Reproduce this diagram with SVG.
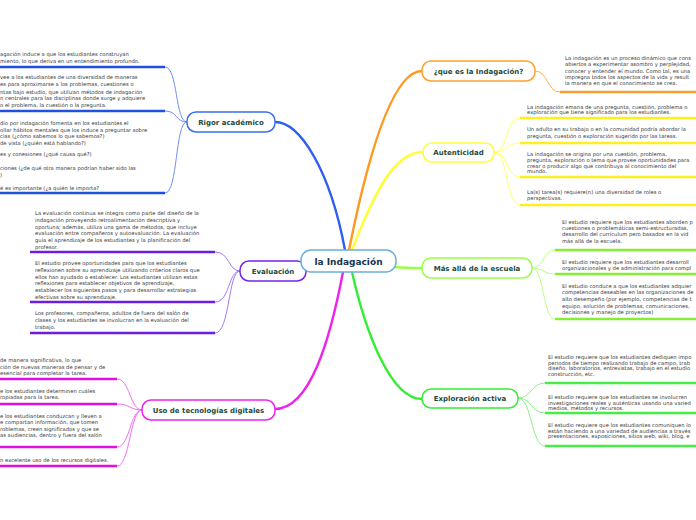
<svg xmlns="http://www.w3.org/2000/svg" width="696" height="520" viewBox="0 0 696 520">
<style>
.lf{font-family:"DejaVu Sans",Verdana,sans-serif;font-size:5.25px;fill:#383838}
.nl{font-family:"DejaVu Sans",Verdana,sans-serif;font-size:7px;font-weight:bold;fill:#1e4a3c;text-anchor:middle}
.box{fill:#fff;stroke-width:1.5}
.con{fill:none;stroke-linecap:round}
.ul{fill:none;stroke-width:2.5}
.lc{fill:none;stroke-width:1}
</style>
<rect width="696" height="520" fill="#fff"/>
<g id="connectors">
<path class="con" d="M275,122 C300,122 330,170 345,250" stroke="#2e5ef0" stroke-width="2.4"/>
<path class="con" d="M349,250 C365,170 390,71 422,71" stroke="#ff9922" stroke-width="2.4"/>
<path class="con" d="M352,250 C375,190 395,152 423,152" stroke="#ffff33" stroke-width="2.4"/>
<path class="con" d="M395,267 C405,268 412,268 422,268" stroke="#99ff44" stroke-width="2.4"/>
<path class="con" d="M352,272 C365,330 390,399 422,399" stroke="#33ee33" stroke-width="2.4"/>
<path class="con" d="M343,272 C330,340 310,409 275,409" stroke="#ee22ee" stroke-width="2.4"/>
<path class="lc" d="M187,122 C175,122 178,67 165,67" stroke="#7090f0"/>
<path class="lc" d="M187,122 C175,122 178,111 165,111" stroke="#7090f0"/>
<path class="lc" d="M187,122 C175,122 178,193 165,193" stroke="#7090f0"/>
<path class="lc" d="M240,271 C228,271 230,252 215,252" stroke="#a07af5"/>
<path class="lc" d="M240,271 C228,271 230,302 215,302" stroke="#a07af5"/>
<path class="lc" d="M240,271 C228,271 230,333 215,333" stroke="#a07af5"/>
<path class="lc" d="M142,410 C130,410 130,379 117,379" stroke="#f070f0"/>
<path class="lc" d="M142,410 C130,410 130,404 117,404" stroke="#f070f0"/>
<path class="lc" d="M142,410 C130,410 130,447 117,447" stroke="#f070f0"/>
<path class="lc" d="M142,410 C130,410 130,466 117,466" stroke="#f070f0"/>
<path class="lc" d="M535,71 C548,71 547,92 560,92" stroke="#ffb050"/>
<path class="lc" d="M494,152 C508,152 506,118 520,118" stroke="#ffff66"/>
<path class="lc" d="M494,152 C508,152 506,143 520,143" stroke="#ffff66"/>
<path class="lc" d="M494,152 C508,152 506,177 520,177" stroke="#ffff66"/>
<path class="lc" d="M494,152 C508,152 506,205 520,205" stroke="#ffff66"/>
<path class="lc" d="M532,268 C544,268 543,250 555,250" stroke="#bbff88"/>
<path class="lc" d="M532,268 C544,268 543,274 555,274" stroke="#bbff88"/>
<path class="lc" d="M532,268 C544,268 543,319 555,319" stroke="#bbff88"/>
<path class="lc" d="M518,398 C532,398 531,383 545,383" stroke="#88f088"/>
<path class="lc" d="M518,398 C532,398 531,413 545,413" stroke="#88f088"/>
<path class="lc" d="M518,398 C532,398 531,446 545,446" stroke="#88f088"/>
</g>
<g id="rigor-leaves">
<text class="lf"><tspan x="0" y="56">agación induce a que los estudiantes construyan</tspan><tspan x="0" y="63">miento, lo que deriva en un entendimiento profundo.</tspan></text>
<path class="ul" d="M0,67 H165" stroke="#2050e0"/>
<text class="lf"><tspan x="0" y="79">vee a los estudiantes de una diversidad de maneras</tspan><tspan x="0" y="86">es para aproximarse a los problemas, cuestiones o</tspan><tspan x="0" y="93.5">ntas bajo estudio, que utilizan métodos de indagación</tspan><tspan x="0" y="100">n centrales para las disciplinas donde surge y adquiere</tspan><tspan x="0" y="107">o el problema, la cuestión o la pregunta.</tspan></text>
<path class="ul" d="M0,111 H165" stroke="#2050e0"/>
<text class="lf"><tspan x="0" y="125">dio por indagación fomenta en los estudiantes el</tspan><tspan x="0" y="131.5">ollar hábitos mentales que los induce a preguntar sobre</tspan><tspan x="0" y="138">cias (¿cómo sabemos lo que sabemos?)</tspan><tspan x="0" y="144.5">de vista (¿quién está hablando?)</tspan><tspan x="0" y="156">es y conesiones (¿qué causa qué?)</tspan><tspan x="0" y="170">ciones (¿de qué otra manera podrían haber sido las</tspan><tspan x="0" y="176.5">)</tspan><tspan x="0" y="190">é es importante (¿a quién le importa?</tspan></text>
<path class="ul" d="M0,193 H165" stroke="#2050e0"/>
</g>
<g id="evaluacion-leaves">
<text class="lf"><tspan x="35" y="215">La evaluación continua se integra como parte del diseño de la</tspan><tspan x="35" y="222">indagación proveyendo retroalimentación descriptiva y</tspan><tspan x="35" y="228.7">oportuna; además, utiliza una gama de métodos, que incluye</tspan><tspan x="35" y="235.3">evaluación entre compañeros y autoevaluación. La evaluación</tspan><tspan x="35" y="242">guía el aprendizaje de los estudiantes y la planificación del</tspan><tspan x="35" y="248.7">profesor.</tspan></text>
<path class="ul" d="M30,252 H215" stroke="#6a1ee0"/>
<text class="lf"><tspan x="35" y="265.3">El estudio provee oportunidades para que los estudiantes</tspan><tspan x="35" y="272">reflexionen sobre su aprendizaje utilizando criterios claros que</tspan><tspan x="35" y="278.7">ellos han ayudado a establecer. Los estudiantes utilizan estas</tspan><tspan x="35" y="285.3">reflexiones para establecer objetivos de aprendizaje,</tspan><tspan x="35" y="292">establecer los siguientes pasos y para desarrollar estrategias</tspan><tspan x="35" y="298.7">efectivas sobre su aprendizaje.</tspan></text>
<path class="ul" d="M30,302 H215" stroke="#6a1ee0"/>
<text class="lf"><tspan x="35" y="315.3">Los profesores, compañeros, adultos de fuera del salón de</tspan><tspan x="35" y="322">clases y los estudiantes se involucran en la evaluación del</tspan><tspan x="35" y="328.7">trabajo.</tspan></text>
<path class="ul" d="M30,333 H215" stroke="#6a1ee0"/>
</g>
<g id="uso-leaves">
<text class="lf"><tspan x="0" y="362">de manera significativa, lo que</tspan><tspan x="0" y="368.7">ción de nuevas maneras de pensar y de</tspan><tspan x="0" y="375.3">esencial para completar la tarea.</tspan></text>
<path class="ul" d="M0,379 H117" stroke="#e010e0"/>
<text class="lf"><tspan x="0" y="393">e los estudiantes determinen cuáles</tspan><tspan x="0" y="399.3">ropiadas para la tarea.</tspan></text>
<path class="ul" d="M0,404 H117" stroke="#e010e0"/>
<text class="lf"><tspan x="0" y="417.7">e los estudiantes conduzcan y lleven a</tspan><tspan x="0" y="424.3">e compartan información, que tomen</tspan><tspan x="0" y="431">roblemas, creen significados y que se</tspan><tspan x="0" y="437">as audiencias, dentro y fuera del salón</tspan></text>
<path class="ul" d="M0,447 H117" stroke="#e010e0"/>
<text class="lf"><tspan x="0" y="462">n excelente uso de los recursos digitales.</tspan></text>
<path class="ul" d="M0,466 H117" stroke="#e010e0"/>
</g>
<g id="que-es-leaves">
<text class="lf"><tspan x="565" y="60.3">La indagación es un proceso dinámico que cons</tspan><tspan x="565" y="66.3">abiertos a experimentar asombro y perplejidad,</tspan><tspan x="565" y="72.7">conocer y entender el mundo. Como tal, es una</tspan><tspan x="565" y="79">impregna todos los aspectos de la vida y result</tspan><tspan x="565" y="85.3">la manera en que el conocimiento se crea.</tspan></text>
<path class="ul" d="M560,92 H696" stroke="#f5a030"/>
</g>
<g id="autenticidad-leaves">
<text class="lf"><tspan x="527" y="108.7">La indagación emana de una pregunta, cuestión, problema o</tspan><tspan x="527" y="114.3">exploración que tiene significado para los estudiantes.</tspan></text>
<path class="ul" d="M520,118 H696" stroke="#ffee22"/>
<text class="lf"><tspan x="527" y="131.3">Un adulto en su trabajo o en la comunidad podría abordar la</tspan><tspan x="527" y="137.7">pregunta, cuestión o exploración sugerido por las tareas.</tspan></text>
<path class="ul" d="M520,143 H696" stroke="#ffee22"/>
<text class="lf"><tspan x="527" y="156.3">La indagación se origina por una cuestión, problema,</tspan><tspan x="527" y="162">pregunta, exploración o tema que provee oportunidades para</tspan><tspan x="527" y="167.7">crear o producir algo que contribuya al conocimiento del</tspan><tspan x="527" y="173">mundo.</tspan></text>
<path class="ul" d="M520,177 H696" stroke="#ffee22"/>
<text class="lf"><tspan x="527" y="193.7">La(s) tarea(s) requiere(n) una diversidad de roles o</tspan><tspan x="527" y="200.3">perspectivas.</tspan></text>
<path class="ul" d="M520,205 H696" stroke="#ffee22"/>
</g>
<g id="mas-alla-leaves">
<text class="lf"><tspan x="562" y="223.7">El estudio requiere que los estudiantes aborden p</tspan><tspan x="562" y="230.3">cuestiones o problemáticas semi-estructuradas, </tspan><tspan x="562" y="236.3">desarrollo del currículum pero basados en la vid</tspan><tspan x="562" y="243">más allá de la escuela.</tspan></text>
<path class="ul" d="M555,250 H696" stroke="#88ee33"/>
<text class="lf"><tspan x="562" y="263.7">El estudio requiere que los estudiantes desarroll</tspan><tspan x="562" y="269.7">organizacionales y de administración para compl</tspan></text>
<path class="ul" d="M555,274 H696" stroke="#88ee33"/>
<text class="lf"><tspan x="562" y="287.7">El estudio conduce a que los estudiantes adquier</tspan><tspan x="562" y="294.3">competencias deseables en las organizaciones de</tspan><tspan x="562" y="301">alto desempeño (por ejemplo, competencias de t</tspan><tspan x="562" y="307.7">equipo, solución de problemas, comunicaciones,</tspan><tspan x="562" y="314.3">decisiones y manejo de proyectos)</tspan></text>
<path class="ul" d="M555,319 H696" stroke="#88ee33"/>
</g>
<g id="exploracion-leaves">
<text class="lf"><tspan x="548" y="358.7">El estudio requiere que los estudiantes dediquen impo</tspan><tspan x="548" y="364.7">periodos de tiempo realizando trabajo de campo, trab</tspan><tspan x="548" y="370.3">diseño, laboratorios, entrevistas, trabajo en el estudio</tspan><tspan x="548" y="376.3">construcción, etc.</tspan></text>
<path class="ul" d="M545,383 H696" stroke="#44ee44"/>
<text class="lf"><tspan x="548" y="398.7">El estudio requiere que los estudiantes se involucren</tspan><tspan x="548" y="404.7">investigaciones reales y auténticas usando una varied</tspan><tspan x="548" y="410.3">medios, métodos y recursos.</tspan></text>
<path class="ul" d="M545,413 H696" stroke="#44ee44"/>
<text class="lf"><tspan x="548" y="427">El estudio requiere que los estudiantes comuniquen lo</tspan><tspan x="548" y="432.5">están haciendo a una variedad de audiencias a través</tspan><tspan x="548" y="438">presentaciones, exposiciones, sitios web, wiki, blog, e</tspan></text>
<path class="ul" d="M545,446 H696" stroke="#44ee44"/>
</g>
<g id="rigor"><rect class="box" x="187" y="112" width="88" height="20" rx="9" stroke="#3d6ef0"/><text class="nl" x="231" y="124.5">Rigor académico</text></g>
<g id="evaluacion"><rect class="box" x="240" y="261" width="66" height="20" rx="9" stroke="#7722ee"/><text class="nl" x="273" y="273.5">Evaluación</text></g>
<g id="uso"><rect class="box" x="142" y="400" width="133" height="20" rx="9" stroke="#ee22ee"/><text class="nl" x="208.5" y="412.5">Uso de tecnologías digitales</text></g>
<g id="que-es"><rect class="box" x="422" y="61" width="113" height="20" rx="9" stroke="#ffa030"/><text class="nl" x="478.5" y="73.5">¿que es la Indagación?</text></g>
<g id="autenticidad"><rect class="box" x="423" y="143" width="71" height="19" rx="9" stroke="#ffff33"/><text class="nl" x="458.5" y="155">Autenticidad</text></g>
<g id="mas-alla"><rect class="box" x="422" y="258" width="110" height="20" rx="9" stroke="#99ff44"/><text class="nl" x="477" y="270.5">Más allá de la escuela</text></g>
<g id="exploracion"><rect class="box" x="422" y="389" width="96" height="19" rx="9" stroke="#33ee33"/><text class="nl" x="470" y="401">Exploración activa</text></g>
<g id="center"><rect class="box" x="301" y="250" width="95" height="22" rx="10" stroke="#6aaedc"/><text x="348.5" y="264.5" text-anchor="middle" font-family="DejaVu Sans,Verdana,sans-serif" font-size="9px" font-weight="bold" fill="#1a3350">la Indagación</text></g>
</svg>
